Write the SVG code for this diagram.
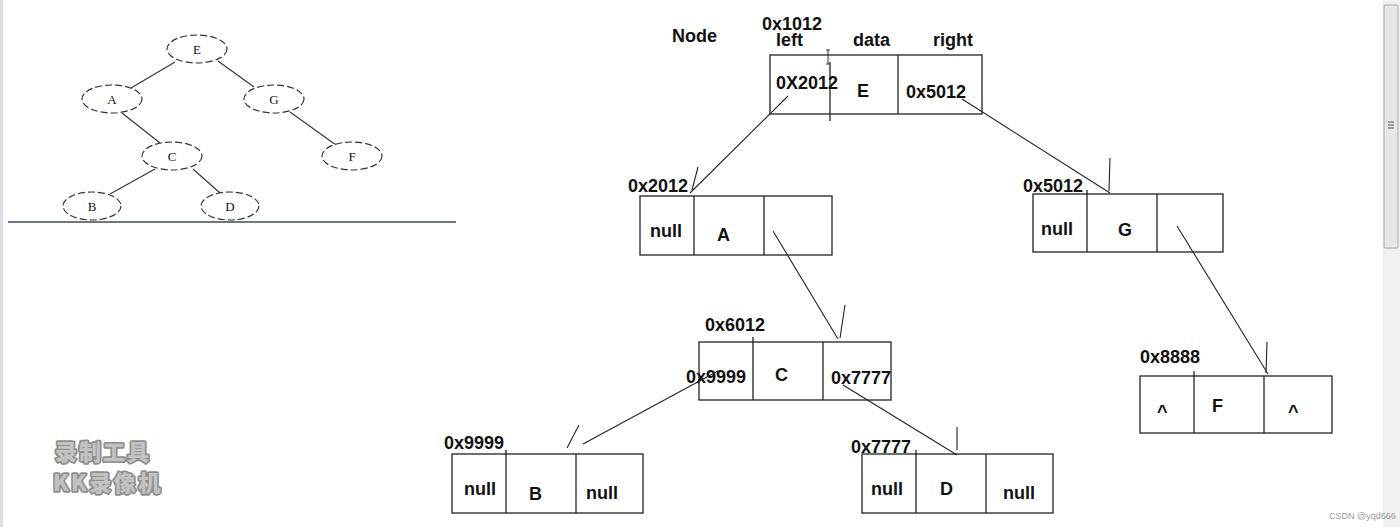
<svg xmlns="http://www.w3.org/2000/svg" width="1400" height="527" viewBox="0 0 1400 527">
<style>
.bg{fill:#ffffff}
.box{fill:#ffffff;stroke:#222;stroke-width:1.3}
.div{stroke:#222;stroke-width:1.3;fill:none}
.t{font-family:"Liberation Sans",Arial,sans-serif;font-weight:bold;font-size:18px;fill:#111}
.ell{fill:#fff;stroke:#333;stroke-width:1.2;stroke-dasharray:7 3}
.tl{font-family:"Liberation Serif","Times New Roman",serif;font-size:13px;fill:#111;text-anchor:middle}
.tedge{stroke:#333;stroke-width:1.1;fill:none}
.con{stroke:#222;stroke-width:1.1;fill:none}
.wm{font-family:"Noto Sans CJK SC","Noto Sans",sans-serif;font-weight:900;font-size:22px;fill:#c2c2c2;stroke:#8f8f8f;stroke-width:3.5;stroke-linejoin:round;paint-order:stroke}
</style>
<rect class="bg" x="0" y="0" width="1400" height="527"/>
<rect x="0" y="0" width="3" height="527" fill="#d6dde6"/>

<!-- small reference tree -->
<g id="tree">
  <g id="tree-edges">
    <line class="tedge" x1="175" y1="62" x2="131" y2="88"/>
    <line class="tedge" x1="218" y1="61" x2="254" y2="87"/>
    <line class="tedge" x1="122" y1="113" x2="160" y2="143"/>
    <line class="tedge" x1="290" y1="112" x2="336" y2="145"/>
    <line class="tedge" x1="155" y1="169" x2="110" y2="194"/>
    <line class="tedge" x1="193" y1="169" x2="220" y2="193"/>
  </g>
  <g id="t-E"><ellipse class="ell" cx="197" cy="49" rx="30" ry="14"/><text class="tl" x="197" y="54">E</text></g>
  <g id="t-A"><ellipse class="ell" cx="112" cy="99" rx="30" ry="14"/><text class="tl" x="112" y="104">A</text></g>
  <g id="t-G"><ellipse class="ell" cx="274" cy="99" rx="30" ry="14"/><text class="tl" x="274" y="104">G</text></g>
  <g id="t-C"><ellipse class="ell" cx="172" cy="156" rx="30" ry="14"/><text class="tl" x="172" y="161">C</text></g>
  <g id="t-F"><ellipse class="ell" cx="352" cy="156" rx="30" ry="14"/><text class="tl" x="352" y="161">F</text></g>
  <g id="t-B"><ellipse class="ell" cx="92" cy="206" rx="29" ry="14"/><text class="tl" x="92" y="211">B</text></g>
  <g id="t-D"><ellipse class="ell" cx="230" cy="206" rx="29" ry="14"/><text class="tl" x="230" y="211">D</text></g>
  <line x1="8" y1="222" x2="456" y2="222" stroke="#3c4a5c" stroke-width="1.6"/>
</g>

<!-- headers -->
<g id="headers">
  <text class="t" x="672" y="42">Node</text>
  <text class="t" x="762" y="30">0x1012</text>
  <text class="t" x="776" y="46">left</text>
  <text class="t" x="853" y="46">data</text>
  <text class="t" x="933" y="46">right</text>
</g>

<!-- node E -->
<g id="node-E">
  <rect class="box" x="770" y="55" width="212" height="59"/>
  <line class="div" x1="830" y1="62" x2="830" y2="121"/>
  <line class="div" x1="898" y1="55" x2="898" y2="114"/>
  <path d="M826 50 H830 M828 50 V64 M826 64 H830" stroke="#333" stroke-width="1" fill="none"/>
  <text class="t" x="776" y="89">0X2012</text>
  <text class="t" x="857" y="97">E</text>
  <text class="t" x="906" y="98">0x5012</text>
</g>

<!-- node A -->
<g id="node-A">
  <rect class="box" x="640" y="196" width="192" height="59"/>
  <line class="div" x1="694" y1="196" x2="694" y2="255"/>
  <line class="div" x1="764" y1="196" x2="764" y2="255"/>
  <text class="t" x="628" y="192">0x2012</text>
  <text class="t" x="650" y="237">null</text>
  <text class="t" x="717" y="241">A</text>
</g>

<!-- node G -->
<g id="node-G">
  <rect class="box" x="1033" y="194" width="190" height="58"/>
  <line class="div" x1="1087" y1="190" x2="1087" y2="252"/>
  <line class="div" x1="1157" y1="194" x2="1157" y2="252"/>
  <text class="t" x="1023" y="192">0x5012</text>
  <text class="t" x="1041" y="235">null</text>
  <text class="t" x="1118" y="236">G</text>
</g>

<!-- node C -->
<g id="node-C">
  <rect class="box" x="699" y="342" width="192" height="58"/>
  <line class="div" x1="753" y1="337" x2="753" y2="400"/>
  <line class="div" x1="823" y1="342" x2="823" y2="400"/>
  <text class="t" x="705" y="331">0x6012</text>
  <text class="t" x="686" y="383">0x9999</text>
  <text class="t" x="775" y="381">C</text>
  <text class="t" x="831" y="384">0x7777</text>
</g>

<!-- node B -->
<g id="node-B">
  <rect class="box" x="452" y="454" width="191" height="59"/>
  <line class="div" x1="506" y1="450" x2="506" y2="513"/>
  <line class="div" x1="576" y1="454" x2="576" y2="513"/>
  <text class="t" x="444" y="449">0x9999</text>
  <text class="t" x="464" y="495">null</text>
  <text class="t" x="529" y="500">B</text>
  <text class="t" x="586" y="499">null</text>
</g>

<!-- node D -->
<g id="node-D">
  <rect class="box" x="862" y="454" width="191" height="59"/>
  <line class="div" x1="916" y1="450" x2="916" y2="513"/>
  <line class="div" x1="986" y1="454" x2="986" y2="513"/>
  <text class="t" x="851" y="453">0x7777</text>
  <text class="t" x="871" y="495">null</text>
  <text class="t" x="940" y="495">D</text>
  <text class="t" x="1003" y="499">null</text>
</g>

<!-- node F -->
<g id="node-F">
  <rect class="box" x="1140" y="376" width="192" height="57"/>
  <line class="div" x1="1194" y1="371" x2="1194" y2="433"/>
  <line class="div" x1="1264" y1="376" x2="1264" y2="433"/>
  <text class="t" x="1140" y="363">0x8888</text>
  <text class="t" x="1157" y="418">^</text>
  <text class="t" x="1212" y="412">F</text>
  <text class="t" x="1288" y="418">^</text>
</g>

<!-- connectors -->
<g id="connectors">
  <line class="con" x1="788" y1="96" x2="690" y2="193"/>
  <line class="con" x1="698" y1="167" x2="692" y2="190"/>
  <line class="con" x1="962" y1="99" x2="1110" y2="193"/>
  <line class="con" x1="1110" y1="158" x2="1109" y2="191"/>
  <line class="con" x1="773" y1="231" x2="838" y2="339"/>
  <line class="con" x1="845" y1="305" x2="840" y2="338"/>
  <line class="con" x1="1177" y1="226" x2="1268" y2="374"/>
  <line class="con" x1="1267" y1="342" x2="1266" y2="373"/>
  <line class="con" x1="718" y1="371" x2="583" y2="444"/>
  <line class="con" x1="579" y1="425" x2="567" y2="448"/>
  <line class="con" x1="843" y1="385" x2="957" y2="455"/>
  <line class="con" x1="957" y1="427" x2="957" y2="450"/>
</g>

<!-- watermark -->
<g id="watermark">
  <text class="wm" x="55" y="460" letter-spacing="2">录制工具</text>
  <text class="wm" x="53" y="491" letter-spacing="2.5">KK录像机</text>
</g>

<!-- scrollbar -->
<g id="scrollbar">
  <rect x="1383" y="0" width="17" height="527" fill="#f0f0f0"/>
  <rect x="1384" y="5" width="14" height="243" rx="1" fill="#e6e6e6" stroke="#a8a8a8" stroke-width="1"/>
  <path d="M1388 122 H1394 M1388 125 H1394 M1388 128 H1394" stroke="#555" stroke-width="1"/>
</g>
<text x="1329" y="519" font-family="'Liberation Sans',Arial,sans-serif" font-size="9" fill="#9a9a9a">CSDN @yqd666</text>
</svg>
